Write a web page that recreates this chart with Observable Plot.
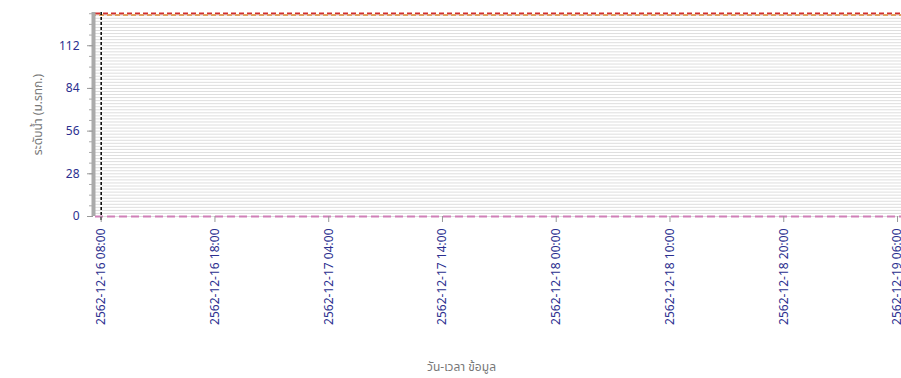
<!DOCTYPE html>
<html>
<head>
<meta charset="utf-8">
<script src="https://cdn.jsdelivr.net/npm/d3@7"></script>
<script src="https://cdn.jsdelivr.net/npm/@observablehq/plot@0.6"></script>
<style>
  html, body { margin: 0; padding: 0; background: #fff; }
  #chart svg { display: block; }
</style>
</head>
<body>
<div id="chart"></div>
<script>
// ---- data ----
const xTickLabels = [
  "2562-12-16 08:00", "2562-12-16 18:00", "2562-12-17 04:00", "2562-12-17 14:00",
  "2562-12-18 00:00", "2562-12-18 10:00", "2562-12-18 20:00", "2562-12-19 06:00"
];
const xDomainLabels = ["2562-12-16 07:30", "2562-12-19 06:21"];
const startTime = "2562-12-16 08:00";
const yTicks = [0, 28, 56, 84, 112];
const yDomain = [0, 133.8];
const bankLevel = [133.2];      // red dashed
const warnLevel = [132.1];      // orange dashed
const groundLevel = [0];        // pink dashed
const yTitle = "ระดับน้ำ (ม.รทก.)";
const xTitle = "วัน-เวลา ข้อมูล";

// ---- helpers ----
function parseThai(s) {
  const [d, t] = s.split(" ");
  const [y, m, day] = d.split("-").map(Number);
  const [hh, mm] = t.split(":").map(Number);
  return new Date(Date.UTC(y - 543, m - 1, day, hh, mm));
}
const xTicks = xTickLabels.map(parseThai);
const labelOf = new Map(xTicks.map((d, i) => [+d, xTickLabels[i]]));
const gridVals = d3.range(0, yDomain[1], 2);
const minorTicks = d3.range(0, yDomain[1], 7);

const FONT = "Tahoma, 'Noto Sans Thai', 'Noto Sans', 'DejaVu Sans', sans-serif";
const NAVY = "#2b2f8f";
const GRAY = "#777";

const chart = Plot.plot({
  width: 901,
  height: 378,
  marginLeft: 95,
  marginRight: 0,
  marginTop: 12,
  marginBottom: 162,
  style: { fontFamily: FONT, fontSize: "11px", background: "#fff" },
  x: { type: "utc", domain: xDomainLabels.map(parseThai) },
  y: { domain: yDomain },
  marks: [
    Plot.ruleY(gridVals, { stroke: "#dedede", strokeWidth: 1 }),
    Plot.ruleY(bankLevel, { stroke: "#d03030", strokeWidth: 2, strokeDasharray: "5,3" }),
    Plot.ruleY(warnLevel, { stroke: "#e0a060", strokeWidth: 2, strokeDasharray: "5,3", strokeDashoffset: 4 }),
    Plot.ruleY(groundLevel, { stroke: "#d080b8", strokeWidth: 2, strokeDasharray: "8,4" }),
    Plot.ruleX([parseThai(startTime)], { stroke: "#000", strokeWidth: 1.5, strokeDasharray: "3,2", insetBottom: -6 }),
    // left axis bar
    Plot.ruleX([parseThai(xDomainLabels[0])], { stroke: "#aaa", strokeWidth: 4, dx: -2 }),
    Plot.axisY({ ticks: minorTicks, tickSize: 4, text: null, stroke: "#aaa", dx: -2, label: null }),
    Plot.axisY({
      ticks: yTicks, tickSize: 6, tickPadding: 8, stroke: "#999", fill: NAVY,
      fontSize: 12, label: null, dx: -2
    }),
    Plot.axisX({
      ticks: xTicks, tickSize: 6, tickPadding: 6, tickRotate: -90, stroke: "#999",
      fill: NAVY, fontSize: 12, label: null,
      tickFormat: d => labelOf.get(+d)
    }),
    Plot.text([yTitle], {
      frameAnchor: "left", textAnchor: "middle", rotate: -90, dx: -57, dy: 0, fill: GRAY, fontSize: 12
    }),
    Plot.text([xTitle], {
      frameAnchor: "bottom", dx: -37, dy: 154, fill: GRAY, fontSize: 12
    })
  ]
});
document.getElementById("chart").appendChild(chart);
</script>
</body>
</html>
